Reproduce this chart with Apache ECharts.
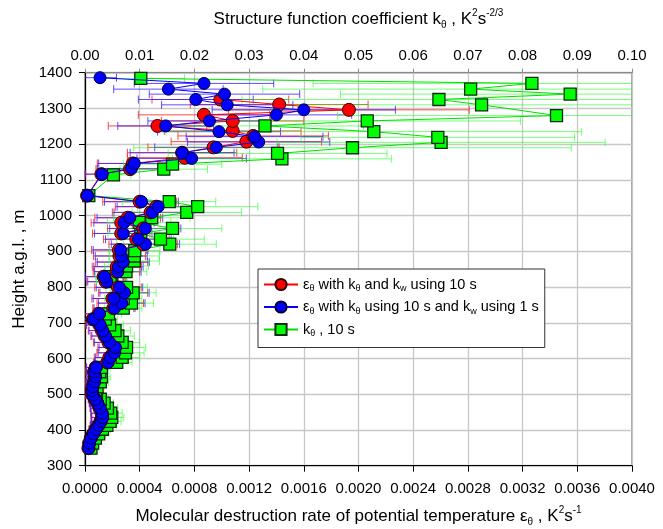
<!DOCTYPE html>
<html>
<head>
<meta charset="utf-8">
<script src="https://cdn.jsdelivr.net/npm/echarts@6/dist/echarts.min.js"></script>
<style>html,body{margin:0;padding:0;background:#fff}#chart{width:663px;height:529px}</style>
</head>
<body>
<div id="chart"></div>
<script>
// ---- Data ----
// Bottom axis ticks
const xTicksBottom = ['0.0000','0.0004','0.0008','0.0012','0.0016','0.0020','0.0024','0.0028','0.0032','0.0036','0.0040'];
const xTicksTop = ['0.00','0.01','0.02','0.03','0.04','0.05','0.06','0.07','0.08','0.09','0.10'];
const yTicks = [300,400,500,600,700,800,900,1000,1100,1200,1300,1400];

// Series 1: eps_theta with k_theta and k_w using 10 s (red)
const redHeights = [349,363,377,389,402,413,424,435,447,461,475,486,498,510,521,535,549,563,575,589,603,616,631,645,663,678,694,710,725,741,755,768,784,799,815,829,843,857,870,887,904,920,934,950,964,980,994,1009,1025,1039,1056,1116,1130,1146,1162,1176,1191,1207,1223,1237,1251,1265,1282,1296,1311,1325];
const redValues = [0.000025,0.000030,0.000042,0.000058,0.000078,0.000097,0.000113,0.000125,0.000121,0.000106,0.000090,0.000073,0.000054,0.000050,0.000054,0.000066,0.000073,0.000066,0.000078,0.000163,0.000178,0.000207,0.000214,0.000172,0.000143,0.000124,0.000105,0.000057,0.000100,0.000207,0.000258,0.000200,0.000278,0.000241,0.000152,0.000136,0.000230,0.000233,0.000268,0.000252,0.000248,0.000425,0.000375,0.000265,0.000425,0.000265,0.000312,0.000480,0.000522,0.000400,0.000015,0.000120,0.000330,0.000350,0.000730,0.000710,0.000940,0.001180,0.001230,0.001080,0.000530,0.001080,0.000870,0.001930,0.001420,0.000990];
const redErrors = [0.00003,0.00003,0.00004,0.00004,0.00005,0.00006,0.00007,0.00008,0.00008,0.00007,0.00006,0.00005,0.00005,0.00005,0.00005,0.00006,0.00006,0.00006,0.00007,0.00010,0.00011,0.00012,0.00012,0.00011,0.00010,0.00010,0.00010,0.00009,0.00011,0.00015,0.00017,0.00015,0.00018,0.00017,0.00014,0.00014,0.00017,0.00018,0.00019,0.00019,0.00020,0.00025,0.00024,0.00021,0.00026,0.00022,0.00024,0.00028,0.00030,0.00027,0.00003,0.00012,0.00025,0.00026,0.00042,0.00040,0.00048,0.00055,0.00055,0.00050,0.00036,0.00052,0.00048,0.00088,0.00065,0.00050];

// Series 2: eps_theta with k_theta using 10 s and k_w using 1 s (blue)
const blueHeights = [349,363,377,389,402,413,424,435,447,461,475,486,498,510,521,535,549,563,575,589,603,616,631,645,663,678,694,710,725,741,755,768,784,799,815,829,843,857,870,887,904,920,934,950,964,980,994,1009,1025,1039,1056,1116,1132,1146,1160,1176,1191,1206,1221,1235,1251,1265,1282,1296,1310,1325,1340,1354,1370,1386];
const blueValues = [0.000028,0.000033,0.000045,0.000062,0.000082,0.000101,0.000118,0.000130,0.000126,0.000111,0.000094,0.000077,0.000057,0.000053,0.000057,0.000070,0.000077,0.000070,0.000082,0.000170,0.000186,0.000216,0.000223,0.000180,0.000150,0.000130,0.000111,0.000062,0.000106,0.000216,0.000269,0.000210,0.000289,0.000252,0.000160,0.000143,0.000240,0.000245,0.000280,0.000265,0.000260,0.000442,0.000390,0.000280,0.000441,0.000285,0.000328,0.000492,0.000535,0.000413,0.000018,0.000125,0.000340,0.000360,0.000780,0.000710,0.000960,0.001270,0.001240,0.000980,0.000590,0.000910,0.001400,0.001600,0.001040,0.000810,0.001020,0.000610,0.000870,0.000110];
const blueErrors = [0.00003,0.00003,0.00004,0.00004,0.00005,0.00006,0.00007,0.00008,0.00008,0.00007,0.00006,0.00005,0.00005,0.00005,0.00005,0.00006,0.00006,0.00006,0.00007,0.00010,0.00011,0.00012,0.00012,0.00011,0.00010,0.00010,0.00010,0.00009,0.00011,0.00015,0.00017,0.00015,0.00018,0.00017,0.00014,0.00014,0.00017,0.00018,0.00019,0.00019,0.00020,0.00025,0.00024,0.00021,0.00026,0.00022,0.00024,0.00028,0.00030,0.00027,0.00003,0.00012,0.00025,0.00026,0.00040,0.00038,0.00045,0.00052,0.00050,0.00045,0.00035,0.00045,0.00055,0.00067,0.00048,0.00042,0.00055,0.00040,0.00051,0.00012];

// Series 3: k_theta, 10 s (green, top axis)
const greenHeights = [349,363,377,389,402,413,424,435,447,461,475,486,498,510,521,535,549,563,575,589,603,616,631,645,663,678,694,710,725,741,755,768,784,799,815,829,843,859,873,887,902,920,934,950,964,981,994,1009,1025,1039,1056,1114,1130,1144,1159,1174,1190,1205,1219,1235,1251,1265,1280,1310,1325,1340,1354,1370,1384];
const greenValues = [0.0011,0.0014,0.0019,0.0025,0.0032,0.0040,0.0046,0.0049,0.0047,0.0041,0.0035,0.0028,0.0021,0.0019,0.0022,0.0028,0.0030,0.0027,0.0030,0.0058,0.0068,0.0074,0.0076,0.0068,0.0060,0.0055,0.0045,0.0037,0.0043,0.0070,0.0085,0.0070,0.0088,0.0076,0.0049,0.0046,0.0075,0.0076,0.0090,0.0090,0.0091,0.0155,0.0138,0.0102,0.0160,0.0099,0.0122,0.0186,0.0206,0.0154,0.0007,0.0052,0.0144,0.0160,0.0360,0.0352,0.0489,0.0651,0.0645,0.0528,0.0329,0.0516,0.0862,0.0725,0.0647,0.0887,0.0705,0.0817,0.0102];
const greenErrors = [0.0008,0.0009,0.0011,0.0013,0.0015,0.0018,0.0020,0.0022,0.0021,0.0019,0.0017,0.0015,0.0013,0.0012,0.0013,0.0015,0.0016,0.0015,0.0016,0.0028,0.0032,0.0034,0.0035,0.0032,0.0030,0.0028,0.0025,0.0022,0.0024,0.0034,0.0040,0.0034,0.0042,0.0038,0.0028,0.0027,0.0038,0.0040,0.0046,0.0046,0.0046,0.0085,0.0080,0.0060,0.0090,0.0058,0.0070,0.0100,0.0110,0.0085,0.0006,0.0032,0.0080,0.0090,0.0200,0.0200,0.0400,0.0300,0.0250,0.0380,0.0180,0.0280,0.0400,0.0380,0.0360,0.0420,0.0380,0.0400,0.0080];

// ---- Chart ----
const FONT = "'Liberation Sans', Arial, sans-serif";
const chart = echarts.init(document.getElementById('chart'), null, {renderer: 'canvas'});

function pairs(hs, vs) { return hs.map((h, i) => [vs[i], h]); }

function errBars(color, hs, vs, es, xAxisIndex) {
  return {
    type: 'custom', xAxisIndex: xAxisIndex, yAxisIndex: 0, silent: true, z: 1,
    data: hs.map((h, i) => [vs[i] - es[i], vs[i] + es[i], h]),
    encode: {x: [0, 1], y: 2},
    renderItem: function (params, api) {
      const lo = api.coord([api.value(0), api.value(2)]);
      const hi = api.coord([api.value(1), api.value(2)]);
      const cs = params.coordSys;
      const L = cs.x, R = cs.x + cs.width;
      const y = lo[1];
      const x1 = Math.max(lo[0], L), x2 = Math.min(hi[0], R);
      const st = {stroke: color, lineWidth: 1};
      const c = 4;
      const ch = [{type: 'line', shape: {x1: x1, y1: y, x2: x2, y2: y}, style: st}];
      if (lo[0] >= L) ch.push({type: 'line', shape: {x1: lo[0], y1: y - c, x2: lo[0], y2: y + c}, style: st});
      if (hi[0] <= R) ch.push({type: 'line', shape: {x1: hi[0], y1: y - c, x2: hi[0], y2: y + c}, style: st});
      return {type: 'group', children: ch};
    }
  };
}

const legendText = {
  red: '{t|ε}{s|θ}{t| with k}{s|θ}{t| and k}{s|w}{t| using 10 s}',
  blue: '{t|ε}{s|θ}{t| with k}{s|θ}{t| using 10 s and k}{s|w}{t| using 1 s}',
  green: '{t|k}{s|θ}{t| , 10 s}'
};

const subRich = {
  t: {fontSize: 14.5, lineHeight: 18, fontFamily: FONT, color: '#000'},
  s: {fontSize: 9, lineHeight: 10, verticalAlign: 'bottom', fontFamily: FONT, color: '#000'},
};

const nameRich = {
  t: {fontSize: 17, lineHeight: 22, fontFamily: FONT, color: '#000'},
  s: {fontSize: 10, lineHeight: 12, verticalAlign: 'bottom', fontFamily: FONT, color: '#000'},
  u: {fontSize: 10, lineHeight: 12, verticalAlign: 'top', fontFamily: FONT, color: '#000'}
};

const option = {
  animation: false,
  backgroundColor: '#fff',
  grid: {left: 85, right: 31, top: 72.7, bottom: 63.3, outerBoundsMode: 'none', containLabel: false,
    show: true, borderColor: '#8a8a8a', borderWidth: 1.5, backgroundColor: 'transparent'},
  legend: {
    data: ['red', 'blue', 'green'],
    orient: 'vertical', left: 258, top: 269,
    backgroundColor: '#fff',
    borderColor: '#333', borderWidth: 1,
    padding: [8, 6, 9, 5],
    itemGap: 6, itemWidth: 34, itemHeight: 14,
    selectedMode: false,
    formatter: function (name) { return legendText[name]; },
    textStyle: {fontFamily: FONT, fontSize: 14.5, color: '#000', rich: subRich}
  },
  xAxis: [
    {
      type: 'value', position: 'bottom', min: 0, max: 0.004, interval: 0.0004,
      name: '{t|Molecular destruction rate of potential temperature ε}{s|θ}{t| , K}{u|2}{t|s}{u|-1}',
      nameLocation: 'middle', nameGap: 40,
      nameTextStyle: {rich: nameRich},
      axisLine: {show: true, lineStyle: {color: '#000', width: 1.2}},
      axisTick: {show: true, inside: false, length: 6, lineStyle: {color: '#000'}},
      axisLabel: {margin: 15.5, fontSize: 15, fontFamily: FONT, color: '#000',
        formatter: function (v) { return xTicksBottom[Math.round(v / 0.0004)]; }},
      splitLine: {show: true, lineStyle: {color: '#c8c8c8', width: 1.3}}
    },
    {
      type: 'value', position: 'top', min: 0, max: 0.1, interval: 0.01,
      name: '{t|Structure function coefficient k}{s|θ}{t| , K}{u|2}{t|s}{u|-2/3}',
      nameLocation: 'middle', nameGap: 42,
      nameTextStyle: {rich: nameRich},
      axisLine: {show: true, lineStyle: {color: '#8a8a8a', width: 1.2}},
      axisTick: {show: true, inside: false, length: 4, lineStyle: {color: '#8a8a8a'}},
      axisLabel: {margin: 9, fontSize: 15, fontFamily: FONT, color: '#000',
        formatter: function (v) { return xTicksTop[Math.round(v / 0.01)]; }},
      splitLine: {show: false}
    }
  ],
  yAxis: {
    type: 'value', min: 300, max: 1400, interval: 100,
    name: 'Height a.g.l. , m', nameLocation: 'middle', nameGap: 57, nameRotate: 90,
    nameTextStyle: {fontSize: 17, fontFamily: FONT, color: '#000'},
    axisLine: {show: true, lineStyle: {color: '#000', width: 1.2}},
    axisTick: {show: true, inside: false, length: 6, lineStyle: {color: '#000'}},
    axisLabel: {margin: 13, fontSize: 15, fontFamily: FONT, color: '#000',
      formatter: function (v) { return String(yTicks[Math.round((v - 300) / 100)]); }},
    splitLine: {show: true, lineStyle: {color: '#c8c8c8', width: 1.3}}
  },
  series: [
    errBars('rgba(255,40,40,0.85)', redHeights, redValues, redErrors, 0),
    errBars('rgba(60,30,255,0.8)', blueHeights, blueValues, blueErrors, 0),
    errBars('rgba(30,255,30,0.6)', greenHeights, greenValues, greenErrors, 1),
    {
      name: 'green', type: 'line', xAxisIndex: 1, yAxisIndex: 0, z: 3,
      data: pairs(greenHeights, greenValues),
      symbol: 'rect', symbolSize: 12,
      lineStyle: {color: '#00e000', width: 1},
      itemStyle: {color: '#00ff00', borderColor: '#0b2a0b', borderWidth: 1.3},
      emphasis: {disabled: true}
    },
    {
      name: 'red', type: 'line', xAxisIndex: 0, yAxisIndex: 0, z: 4,
      data: pairs(redHeights, redValues),
      symbol: 'circle', symbolSize: 13,
      lineStyle: {color: '#ff0000', width: 1},
      itemStyle: {color: '#ff0000', borderColor: '#300000', borderWidth: 1},
      emphasis: {disabled: true}
    },
    {
      name: 'blue', type: 'line', xAxisIndex: 0, yAxisIndex: 0, z: 5,
      data: pairs(blueHeights, blueValues),
      symbol: 'circle', symbolSize: 12,
      lineStyle: {color: '#0000ff', width: 1},
      itemStyle: {color: '#0000ff', borderColor: '#000030', borderWidth: 1},
      emphasis: {disabled: true}
    }
  ]
};
chart.setOption(option);
</script>
</body>
</html>
